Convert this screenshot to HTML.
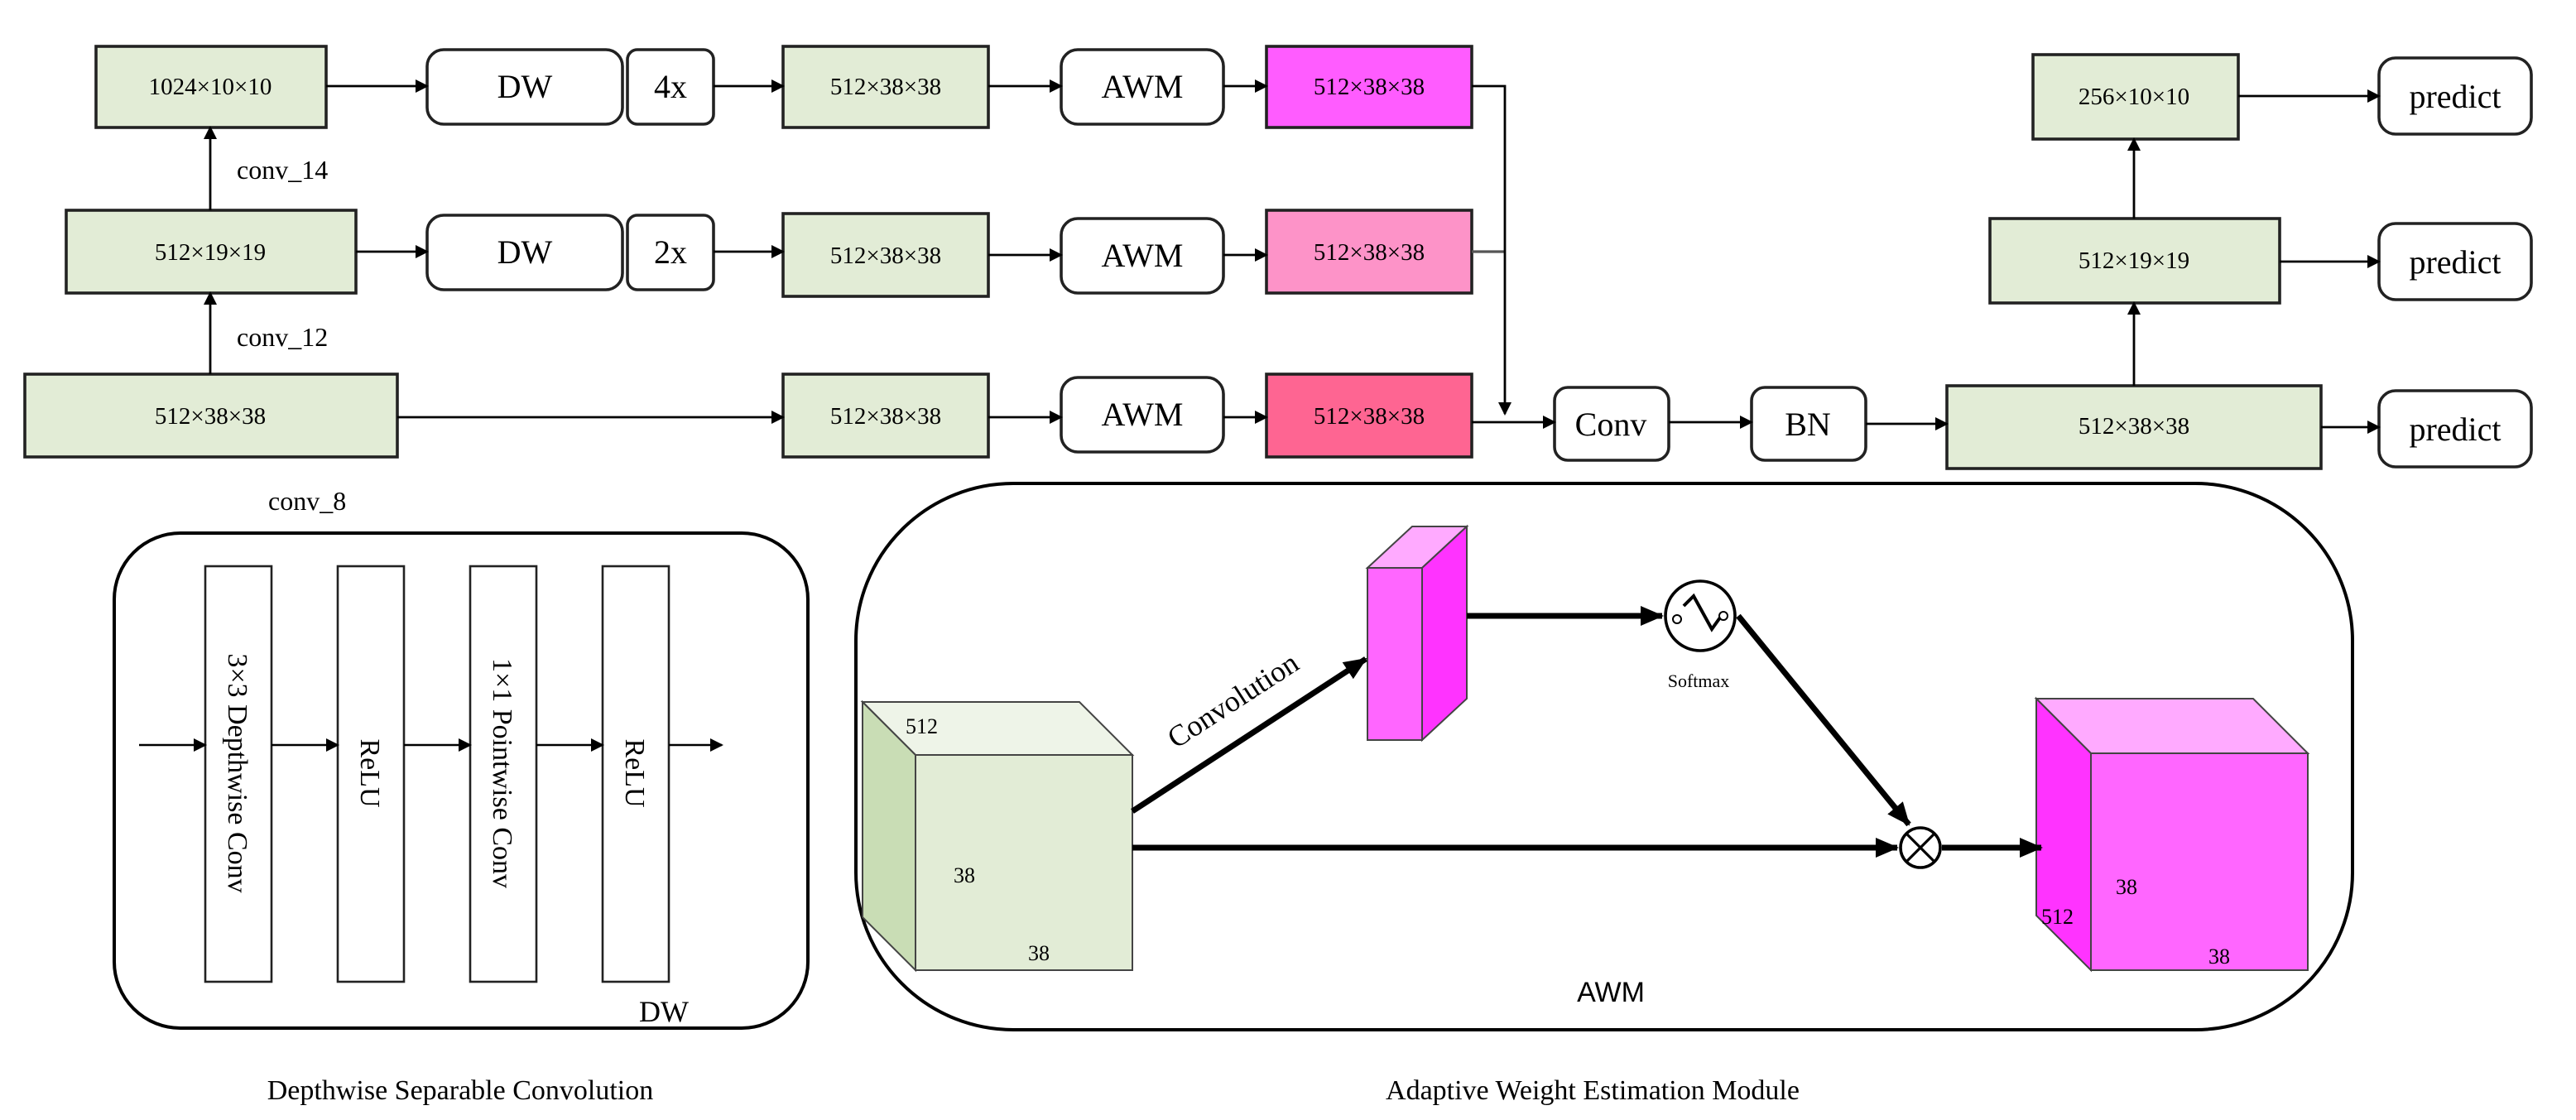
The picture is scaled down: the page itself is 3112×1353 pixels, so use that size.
<!DOCTYPE html>
<html><head><meta charset="utf-8"><style>html,body{margin:0;padding:0;background:#fff}svg{display:block}</style></head>
<body>
<svg width="3112" height="1353" viewBox="0 0 1556 676.5" xmlns="http://www.w3.org/2000/svg" font-family="Liberation Serif, serif">
<defs>
<marker id="a" markerWidth="8" markerHeight="8" refX="7" refY="4" orient="auto" markerUnits="userSpaceOnUse"><path d="M0,0 L8,4 L0,8 Z" fill="#000"/></marker>
<marker id="b" markerWidth="14" markerHeight="12" refX="13" refY="6" orient="auto" markerUnits="userSpaceOnUse"><path d="M0,0 L14,6 L0,12 Z" fill="#000"/></marker>
</defs>
<g stroke="#222" stroke-width="1.8">
<rect x="58" y="28" width="139" height="49" fill="#e2ecd6"/>
<rect x="258" y="30" width="118" height="45" rx="10" fill="#fff"/>
<rect x="379" y="30" width="52" height="45" rx="6" fill="#fff"/>
<rect x="473" y="28" width="124" height="49" fill="#e2ecd6"/>
<rect x="641" y="30" width="98" height="45" rx="10" fill="#fff"/>
<rect x="765" y="28" width="124" height="49" fill="#ff5cff"/>
<rect x="40" y="127" width="175" height="50" fill="#e2ecd6"/>
<rect x="258" y="130" width="118" height="45" rx="10" fill="#fff"/>
<rect x="379" y="130" width="52" height="45" rx="6" fill="#fff"/>
<rect x="473" y="129" width="124" height="50" fill="#e2ecd6"/>
<rect x="641" y="132" width="98" height="45" rx="10" fill="#fff"/>
<rect x="765" y="127" width="124" height="50" fill="#fd93c8"/>
<rect x="15" y="226" width="225" height="50" fill="#e2ecd6"/>
<rect x="473" y="226" width="124" height="50" fill="#e2ecd6"/>
<rect x="641" y="228" width="98" height="45" rx="10" fill="#fff"/>
<rect x="765" y="226" width="124" height="50" fill="#fe6592"/>
<rect x="939" y="234" width="69" height="44" rx="8" fill="#fff"/>
<rect x="1058" y="234" width="69" height="44" rx="8" fill="#fff"/>
<rect x="1176" y="233" width="226" height="50" fill="#e2ecd6"/>
<rect x="1202" y="132" width="175" height="51" fill="#e2ecd6"/>
<rect x="1228" y="33" width="124" height="51" fill="#e2ecd6"/>
<rect x="1437" y="35" width="92" height="46" rx="10" fill="#fff"/>
<rect x="1437" y="135" width="92" height="46" rx="10" fill="#fff"/>
<rect x="1437" y="236" width="92" height="46" rx="10" fill="#fff"/>
</g>
<line x1="889" y1="152" x2="909" y2="152" stroke="#555" stroke-width="1.6"/>
<g stroke="#000" stroke-width="1.4" fill="none" marker-end="url(#a)">
<line x1="197" y1="52" x2="258" y2="52"/>
<line x1="431" y1="52" x2="473" y2="52"/>
<line x1="597" y1="52" x2="641" y2="52"/>
<line x1="739" y1="52" x2="765" y2="52"/>
<line x1="215" y1="152" x2="258" y2="152"/>
<line x1="431" y1="152" x2="473" y2="152"/>
<line x1="597" y1="154" x2="641" y2="154"/>
<line x1="739" y1="154" x2="765" y2="154"/>
<line x1="240" y1="252" x2="473" y2="252"/>
<line x1="597" y1="252" x2="641" y2="252"/>
<line x1="739" y1="252" x2="765" y2="252"/>
<line x1="127" y1="127" x2="127" y2="77"/>
<line x1="127" y1="226" x2="127" y2="177"/>
<polyline points="889,52 909,52 909,250"/>
<line x1="889" y1="255" x2="939" y2="255"/>
<line x1="1008" y1="255" x2="1058" y2="255"/>
<line x1="1127" y1="256" x2="1176" y2="256"/>
<line x1="1402" y1="258" x2="1437" y2="258"/>
<line x1="1377" y1="158" x2="1437" y2="158"/>
<line x1="1352" y1="58" x2="1437" y2="58"/>
<line x1="1289" y1="233" x2="1289" y2="183"/>
<line x1="1289" y1="132" x2="1289" y2="84"/>
</g>
<g font-size="14.5" text-anchor="middle">
<text x="127" y="57">1024×10×10</text>
<text x="535" y="57">512×38×38</text>
<text x="827" y="57">512×38×38</text>
<text x="127" y="157">512×19×19</text>
<text x="535" y="159">512×38×38</text>
<text x="827" y="157">512×38×38</text>
<text x="127" y="256">512×38×38</text>
<text x="535" y="256">512×38×38</text>
<text x="827" y="256">512×38×38</text>
<text x="1289" y="262">512×38×38</text>
<text x="1289" y="162">512×19×19</text>
<text x="1289" y="63">256×10×10</text>
</g>
<g font-size="20" text-anchor="middle">
<text x="317" y="59">DW</text><text x="405" y="59">4x</text>
<text x="317" y="159">DW</text><text x="405" y="159">2x</text>
<text x="690" y="59">AWM</text><text x="690" y="161">AWM</text><text x="690" y="257">AWM</text>
<text x="973" y="263">Conv</text><text x="1092" y="263">BN</text>
<text x="1483" y="65">predict</text><text x="1483" y="165">predict</text><text x="1483" y="266">predict</text>
</g>
<g font-size="16">
<text x="143" y="108">conv_14</text>
<text x="143" y="209">conv_12</text>
<text x="162" y="308">conv_8</text>
</g>
<rect x="69" y="322" width="419" height="299" rx="40" fill="none" stroke="#000" stroke-width="2"/>
<g stroke="#222" stroke-width="1.3" fill="#fff">
<rect x="124" y="342" width="40" height="251"/>
<rect x="204" y="342" width="40" height="251"/>
<rect x="284" y="342" width="40" height="251"/>
<rect x="364" y="342" width="40" height="251"/>
</g>
<g stroke="#000" stroke-width="1.3" marker-end="url(#a)">
<line x1="84" y1="450" x2="124" y2="450"/>
<line x1="164" y1="450" x2="204" y2="450"/>
<line x1="244" y1="450" x2="284" y2="450"/>
<line x1="324" y1="450" x2="364" y2="450"/>
<line x1="404" y1="450" x2="436" y2="450"/>
</g>
<g font-size="17" text-anchor="middle">
<text transform="translate(138,467) rotate(90)">3×3 Depthwise Conv</text>
<text transform="translate(218,467) rotate(90)">ReLU</text>
<text transform="translate(298,467) rotate(90)">1×1 Pointwise Conv</text>
<text transform="translate(378,467) rotate(90)">ReLU</text>
<text x="401" y="617" font-size="18">DW</text>
<text x="278" y="664" font-size="17">Depthwise Separable Convolution</text>
<text x="962" y="664" font-size="17">Adaptive Weight Estimation Module</text>
</g>
<rect x="517" y="292" width="904" height="330" rx="95" fill="none" stroke="#000" stroke-width="2"/>
<g stroke="#444" stroke-width="1">
<polygon points="521,424 652,424 684,456 553,456" fill="#eef4e8"/>
<polygon points="521,424 553,456 553,586 521,554" fill="#c9ddb5"/>
<rect x="553" y="456" width="131" height="130" fill="#e2ecd6"/>
<polygon points="826,343 853,318 886,318 859,343" fill="#ffaaff"/>
<polygon points="859,343 886,318 886,422 859,447" fill="#ff33ff"/>
<rect x="826" y="343" width="33" height="104" fill="#ff66ff"/>
<polygon points="1230,422 1361,422 1394,455 1263,455" fill="#ffaaff"/>
<polygon points="1230,422 1263,455 1263,586 1230,553" fill="#ff33ff"/>
<rect x="1263" y="455" width="131" height="131" fill="#ff66ff"/>
</g>
<g font-size="13">
<text x="547" y="443">512</text>
<text x="576" y="533">38</text>
<text x="621" y="580">38</text>
<text x="1278" y="540">38</text>
<text x="1233" y="558">512</text>
<text x="1334" y="582">38</text>
</g>
<g stroke="#000" stroke-width="3.5" fill="none" marker-end="url(#b)">
<line x1="684" y1="490" x2="825" y2="398"/>
<line x1="886" y1="372" x2="1004" y2="372"/>
<line x1="1050" y1="372" x2="1153" y2="498"/>
<line x1="684" y1="512" x2="1146" y2="512"/>
<line x1="1173" y1="512" x2="1233" y2="512"/>
</g>
<circle cx="1027" cy="372" r="21" fill="#fff" stroke="#000" stroke-width="1.8"/>
<polyline points="1017,366 1023,360 1034,380 1039,373" fill="none" stroke="#000" stroke-width="2"/>
<circle cx="1013" cy="374" r="2.5" fill="#fff" stroke="#000"/>
<circle cx="1041" cy="372" r="2.5" fill="#fff" stroke="#000"/>
<text x="1026" y="415" font-size="11" text-anchor="middle">Softmax</text>
<circle cx="1160" cy="512" r="12" fill="#fff" stroke="#000" stroke-width="1.8"/>
<line x1="1152" y1="504" x2="1168" y2="520" stroke="#000" stroke-width="1.6"/>
<line x1="1168" y1="504" x2="1152" y2="520" stroke="#000" stroke-width="1.6"/>
<text transform="translate(748,428) rotate(-33)" font-size="18" text-anchor="middle">Convolution</text>
<text x="973" y="605" font-size="17" font-family="Liberation Sans, sans-serif" text-anchor="middle">AWM</text>
</svg>
</body></html>
